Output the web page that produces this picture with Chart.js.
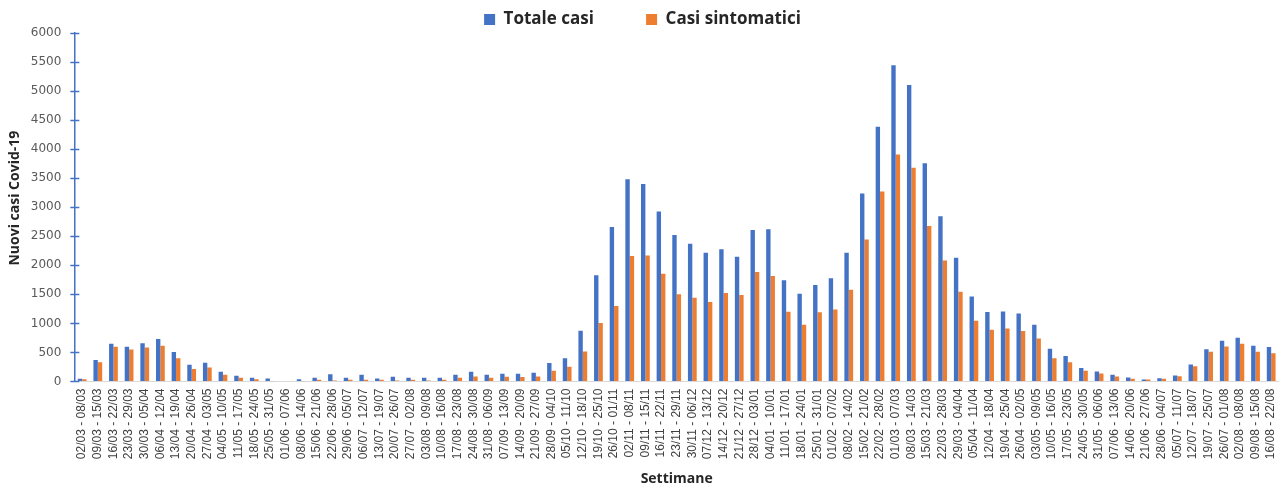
<!DOCTYPE html>
<html>
<head>
<meta charset="utf-8">
<script src="https://cdn.jsdelivr.net/npm/chart.js@4/dist/chart.umd.min.js"></script>
<style>
  html, body { margin: 0; padding: 0; background: #fff; }
  #wrap { width: 1279px; height: 483px; }
</style>
</head>
<body>
<div id="wrap"><canvas id="casiChart"></canvas></div>
<script>
// settimane (2020 - 2021)
var settimane = [
  "02/03 - 08/03", "09/03 - 15/03", "16/03 - 22/03", "23/03 - 29/03", "30/03 - 05/04",
  "06/04 - 12/04", "13/04 - 19/04", "20/04 - 26/04", "27/04 - 03/05", "04/05 - 10/05",
  "11/05 - 17/05", "18/05 - 24/05", "25/05 - 31/05", "01/06 - 07/06", "08/06 - 14/06",
  "15/06 - 21/06", "22/06 - 28/06", "29/06 - 05/07", "06/07 - 12/07", "13/07 - 19/07",
  "20/07 - 26/07", "27/07 - 02/08", "03/08 - 09/08", "10/08 - 16/08", "17/08 - 23/08",
  "24/08 - 30/08", "31/08 - 06/09", "07/09 - 13/09", "14/09 - 20/09", "21/09 - 27/09",
  "28/09 - 04/10", "05/10 - 11/10", "12/10 - 18/10", "19/10 - 25/10", "26/10 - 01/11",
  "02/11 - 08/11", "09/11 - 15/11", "16/11 - 22/11", "23/11 - 29/11", "30/11 - 06/12",
  "07/12 - 13/12", "14/12 - 20/12", "21/12 - 27/12", "28/12 - 03/01", "04/01 - 10/01",
  "11/01 - 17/01", "18/01 - 24/01", "25/01 - 31/01", "01/02 - 07/02", "08/02 - 14/02",
  "15/02 - 21/02", "22/02 - 28/02", "01/03 - 07/03", "08/03 - 14/03", "15/03 - 21/03",
  "22/03 - 28/03", "29/03 - 04/04", "05/04 - 11/04", "12/04 - 18/04", "19/04 - 25/04",
  "26/04 - 02/05", "03/05 - 09/05", "10/05 - 16/05", "17/05 - 23/05", "24/05 - 30/05",
  "31/05 - 06/06", "07/06 - 13/06", "14/06 - 20/06", "21/06 - 27/06", "28/06 - 04/07",
  "05/07 - 11/07", "12/07 - 18/07", "19/07 - 25/07", "26/07 - 01/08", "02/08 - 08/08",
  "09/08 - 15/08", "16/08 - 22/08"
];

var totaleCasi = [
  45, 368, 650, 600, 660, 730, 506, 288, 322, 167,
  98, 63, 52, 0, 40, 63, 126, 63, 115, 52,
  80, 63, 63, 63, 115, 167, 115, 132, 132, 150,
  316, 402, 874, 1827, 2660, 3482, 3402, 2925, 2523, 2373,
  2218, 2275, 2149, 2609, 2620, 1741, 1511, 1661, 1776, 2215,
  3236, 4385, 5445, 5106, 3758, 2845, 2132, 1465, 1195, 1207,
  1172, 977, 563, 437, 230, 172, 115, 69, 34, 57,
  103, 293, 557, 701, 753, 615, 592
];

var casiSintomatici = [
  40, 333, 598, 552, 587, 615, 402, 213, 241, 115,
  63, 40, 3, 0, 3, 29, 17, 29, 29, 29,
  17, 29, 17, 29, 63, 86, 63, 80, 75, 86,
  184, 253, 517, 1006, 1298, 2160, 2167, 1856, 1500, 1443,
  1368, 1523, 1488, 1885, 1816, 1201, 977, 1190, 1241, 1581,
  2443, 3270, 3908, 3678, 2678, 2081, 1546, 1046, 891, 914,
  867, 741, 402, 333, 184, 138, 86, 46, 34, 46,
  92, 264, 511, 603, 649, 511, 488
];

var yTicks = [0, 500, 1000, 1500, 2000, 2500, 3000, 3500, 4000, 4500, 5000, 5500, 6000];

var blu = "#4472C4";
var arancio = "#ED7D31";
var trasparente = "rgba(0,0,0,0)";

// tacche dell'asse y, a cavallo della linea dell'asse
var tacchePlugin = {
  id: "tacche",
  afterDraw: function (chart) {
    var y = chart.scales.y;
    var c = chart.ctx;
    c.save();
    c.strokeStyle = blu;
    c.lineWidth = 1.5;
    y.ticks.forEach(function (t) {
      var py = Math.round(y.getPixelForValue(t.value)) + 0.5;
      c.beginPath();
      c.moveTo(y.right - 4, py);
      c.lineTo(y.right + 5, py);
      c.stroke();
    });
    c.restore();
  }
};

var ctx = document.getElementById("casiChart").getContext("2d");
var casiChart = new Chart(ctx, {
  type: "bar",
  data: {
    labels: settimane,
    datasets: [
      {
        label: "Totale casi",
        data: totaleCasi,
        backgroundColor: blu,
        categoryPercentage: 0.56,
        barPercentage: 1,
      },
      {
        label: "Casi sintomatici",
        data: casiSintomatici,
        backgroundColor: arancio,
        categoryPercentage: 0.56,
        barPercentage: 1,
      },
    ],
  },
  options: {
    responsive: true,
    maintainAspectRatio: false,
    animation: false,
    layout: {
      padding: { left: 6, right: 0, top: 3, bottom: -4 },
    },
    plugins: {
      tooltip: { enabled: false },
      legend: {
        position: "top",
        maxHeight: 30,
        labels: {
          boxWidth: 11,
          boxHeight: 11,
          padding: 8,
          color: "#262626",
          font: { family: "'Open Sans', sans-serif", size: 17, weight: "bold" },
          generateLabels: function (chart) {
            var items = Chart.defaults.plugins.legend.labels.generateLabels(chart);
            items[0].text = items[0].text + "\u00a0\u00a0\u00a0\u00a0\u00a0\u00a0\u00a0\u00a0\u00a0\u00a0";
            return items;
          },
        },
      },
    },
    scales: {
      x: {
        // tacche invisibili: danno lo spazio sotto l'asse senza allargare il margine destro
        grid: { display: true, drawOnChartArea: false, drawTicks: true, tickLength: 12, color: trasparente },
        border: { color: "#D9D9D9", width: 1 },
        ticks: {
          autoSkip: false,
          minRotation: 90,
          maxRotation: 90,
          padding: -5,
          color: "#404040",
          font: { family: "'Liberation Sans', Arial, sans-serif", size: 12, lineHeight: 1 },
        },
        title: {
          display: true,
          text: "Settimane",
          color: "#262626",
          padding: { top: 16, bottom: 0 },
          font: { family: "'Open Sans', sans-serif", size: 14, weight: "bold" },
        },
      },
      y: {
        min: 0,
        max: 6000,
        afterBuildTicks: function (scale) {
          scale.ticks = yTicks.map(function (v) { return { value: v }; });
        },
        grid: {
          drawOnChartArea: false,
          drawTicks: true,
          tickLength: 13,
          color: trasparente,
        },
        border: { color: blu, width: 1.5 },
        ticks: {
          padding: 0,
          color: "#595959",
          font: { family: "'DejaVu Sans', sans-serif", size: 12 },
          callback: function (v) { return String(v); },
        },
        title: {
          display: true,
          // spazi iniziali: il titolo sta un po' più in alto del centro dell'asse
          text: "\u00a0\u00a0\u00a0\u00a0\u00a0Nuovi casi Covid-19",
          color: "#262626",
          padding: { top: 1, bottom: 7 },
          font: { family: "'Open Sans', sans-serif", size: 14, weight: "bold" },
        },
      },
    },
  },
  plugins: [tacchePlugin],
});
</script>
</body>
</html>
